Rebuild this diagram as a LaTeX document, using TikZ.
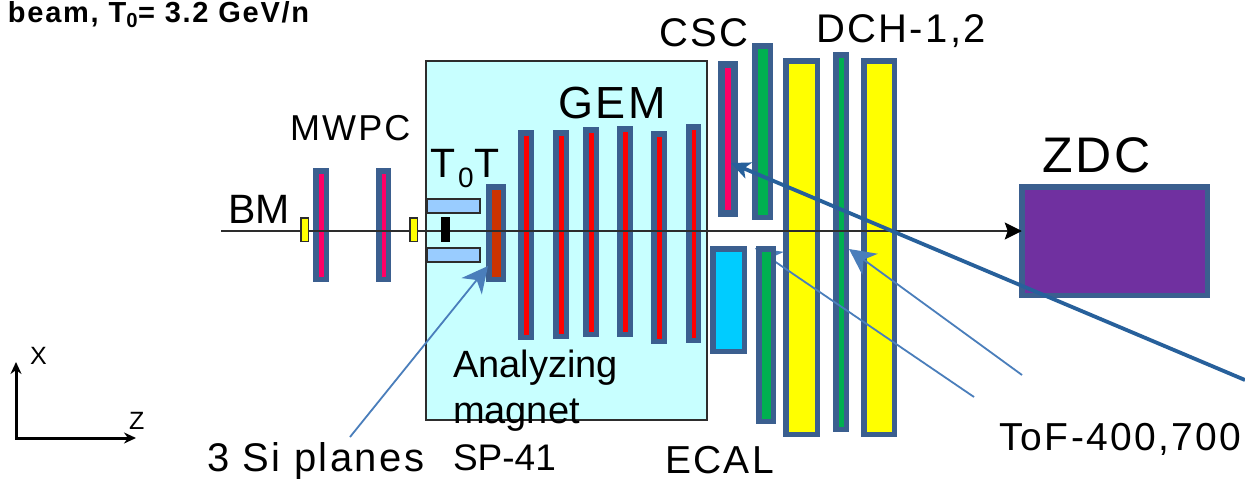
\documentclass[tikz,border=0pt]{standalone}
\usepackage{fontspec}
\setmainfont{Liberation Sans}
\newfontfamily\spaced[LetterSpace=6]{Liberation Sans}
\usetikzlibrary{arrows.meta}
\definecolor{edgeblue}{RGB}{59,95,143}
\definecolor{magnetfill}{RGB}{200,255,255}
\definecolor{barblue}{RGB}{153,204,255}
\definecolor{hotpink}{RGB}{255,0,102}
\definecolor{sired}{RGB}{204,51,0}
\definecolor{detgreen}{RGB}{0,176,80}
\definecolor{ecalblue}{RGB}{0,204,255}
\definecolor{zdcpurple}{RGB}{112,48,160}
\definecolor{darkarrow}{RGB}{39,96,155}
\definecolor{lightarrow}{RGB}{74,126,187}
\definecolor{detyellow}{RGB}{255,255,0}
\definecolor{detred}{RGB}{255,0,0}
\definecolor{linegrey}{RGB}{45,45,45}
\tikzset{
  lab/.style={anchor=base west,inner sep=0pt,outer sep=0pt,text=black},
  lightline/.style={draw=lightarrow,line width=1.8pt,-{Stealth[length=26pt,width=26pt,inset=8pt]}},
}
% name, x0, y0, x1, y1, line width, fill, draw
\newcommand{\detbox}[8]{%
  \node[rectangle,inner sep=0pt,outer sep=0pt,draw=#8,fill=#7,line width=#6pt,
    minimum width={(#4-#2-#6)*1pt},minimum height={(#5-#3-#6)*1pt}] (#1)
    at ({(#2+#4)/2},{(#3+#5)/2}) {};}
\begin{document}
\begin{tikzpicture}[x=1pt,y=-1pt]
\useasboundingbox (0,0) rectangle (1245,479);
\fill[white] (0,0) rectangle (1245,479);

\detbox{magnet}{425}{60}{708}{421}{1.6}{magnetfill}{linegrey}

% coordinates
\coordinate (beamstart) at (221,231);
\coordinate (siend) at (350,437);
\coordinate (sitip) at (488,266);
\coordinate (cscend) at (1245,380);
\coordinate (csctip) at (731,163);
\coordinate (tofAend) at (1022,375);
\coordinate (tofAtip) at (849,249);
\coordinate (tofBend) at (974,397);
\coordinate (tofBtip) at (755,248);
\coordinate (xorigin) at (16,438);
\coordinate (xtip) at (16,362);
\coordinate (ztip) at (136,438);

% MWPC
\detbox{mwpcA}{313}{168}{329}{282}{5.5}{hotpink}{edgeblue}
\detbox{mwpcB}{376}{168}{391}{282}{5.5}{hotpink}{edgeblue}
% T0 bars
\detbox{barA}{426}{198}{481}{214}{1.6}{barblue}{linegrey}
\detbox{barB}{426}{247}{481}{263}{1.6}{barblue}{linegrey}
% Si
\detbox{si}{486}{184}{506}{282}{5.5}{sired}{edgeblue}
% GEM
\detbox{gemA}{518}{130}{534}{340}{5.5}{detred}{edgeblue}
\detbox{gemB}{553}{130}{569}{339}{5.5}{detred}{edgeblue}
\detbox{gemC}{583}{127}{599}{337}{5.5}{detred}{edgeblue}
\detbox{gemD}{617}{126}{633}{337}{5.5}{detred}{edgeblue}
\detbox{gemE}{651}{131}{667}{344}{5.5}{detred}{edgeblue}
\detbox{gemF}{686}{124}{701}{343}{5.5}{detred}{edgeblue}
% CSC and ToF
\detbox{csc}{718}{61}{738}{217}{7}{hotpink}{edgeblue}
\detbox{greenA}{752}{43}{773}{220}{5.5}{detgreen}{edgeblue}
\detbox{ecal}{710}{246}{747}{354}{5.5}{ecalblue}{edgeblue}
% DCH
\detbox{yellowA}{783}{58}{820}{437}{5.5}{detyellow}{edgeblue}
\detbox{greenC}{833}{52}{849}{432}{5.5}{detgreen}{edgeblue}
\detbox{yellowB}{861}{58}{897}{437}{5.5}{detyellow}{edgeblue}
% ZDC
\detbox{zdc}{1019}{184}{1210}{298}{5.5}{zdcpurple}{edgeblue}

% beam
\draw[linegrey,line width=1.6pt,-{Stealth[length=17pt,width=17pt,inset=3pt,black]}] (beamstart) -- (beamstart -| zdc.west);
% beam-line elements on top of the beam
\detbox{bmA}{300}{217}{309}{242}{1.5}{detyellow}{linegrey}
\detbox{bmB}{409}{217}{418}{242}{1.5}{detyellow}{linegrey}
\node[rectangle,fill=black,inner sep=0pt,outer sep=0pt,minimum width=9pt,minimum height=25pt] (target) at (445.5,229.5) {};

% ToF lower arm arrow goes behind lower green block
\draw[lightline] (tofBend) -- (tofBtip);
\detbox{greenB}{756}{246}{776}{424}{5.5}{detgreen}{edgeblue}
\draw[lightline] (tofAend) -- (tofAtip);
\draw[lightline] (siend) -- (sitip);
\draw[darkarrow,line width=3.8pt,-{Stealth[length=19pt,width=17pt,inset=5pt]}] (cscend) -- (csctip);

% axes
\draw[black,line width=3pt,{Stealth[length=12pt,width=11pt]}-{Stealth[length=12pt,width=11pt]}] (xtip) -- (xorigin) -- (ztip);

% labels
\node[lab,font=\spaced\bfseries\fontsize{29}{31}\selectfont] (title) at (8,22) {beam, T\textsubscript{0}= 3.2 GeV/n};
\node[lab,font=\spaced\fontsize{40}{44}\selectfont] (csclab) at (659,46) {CSC};
\node[lab,font=\spaced\fontsize{40}{44}\selectfont] (dchlab) at (816,42) {DCH-1,2};
\node[lab,font=\spaced\fontsize{45}{50}\selectfont] (gemlab) at (558,118) {GEM};
\node[lab,font=\spaced\fontsize{36}{40}\selectfont] (mwpclab) at (290,140) {MWPC};
\node[lab,font=\fontsize{41}{46}\selectfont] (t0t) at (430,177) {T\hspace{3pt}\raisebox{-10pt}{\fontsize{28}{30}\selectfont 0}\hspace{1pt}T};
\node[lab,font=\fontsize{41}{46}\selectfont] (bmlab) at (228,223) {BM};
\node[lab,font=\spaced\fontsize{50}{54}\selectfont] (zdclab) at (1042,172) {ZDC};
\node[lab,font=\fontsize{38}{42}\selectfont] (an) at (453,377) {Analyzing};
\node[lab,font=\fontsize{38}{42}\selectfont] (mag) at (453,423) {magnet};
\node[lab,font=\fontsize{37}{42}\selectfont] (sp) at (453,470) {SP-41};
\node[lab,font=\spaced\fontsize{40}{44}\selectfont] (si3) at (207,471) {3 Si planes};
\node[lab,font=\spaced\fontsize{39}{44}\selectfont] (ecallab) at (665,473) {ECAL};
\node[lab,font=\spaced\fontsize{39}{43}\selectfont] (toflab) at (999,450) {ToF-400,700};
\node[lab,font=\fontsize{25}{28}\selectfont] (xlab) at (30,364) {X};
\node[lab,font=\fontsize{25}{28}\selectfont] (zlab) at (129,429) {Z};
\end{tikzpicture}
\end{document}
